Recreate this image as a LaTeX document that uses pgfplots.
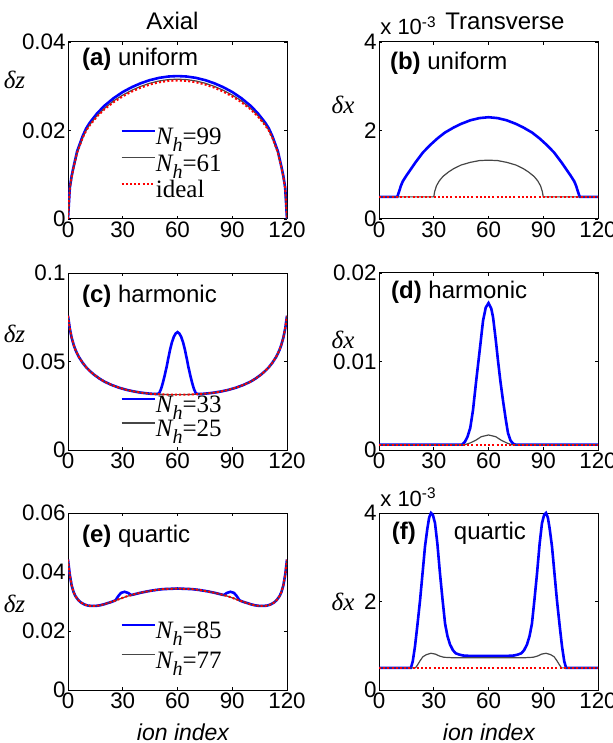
\documentclass[border=0pt]{standalone}
\usepackage{fontspec}
\setmainfont{Liberation Sans}
\newfontfamily\tms{Liberation Serif}
\usepackage{pgfplots}
\pgfplotsset{compat=1.18}

\definecolor{mblue}{RGB}{0,0,255}
\definecolor{mgray}{RGB}{70,70,70}
\definecolor{mred}{RGB}{255,0,0}

\newcommand{\Nh}[1]{{\itshape N\raisebox{-0.28em}{\fontsize{10}{10}\selectfont h}}=#1}

\pgfplotsset{
  panel/.style={
    scale only axis, width=109.5pt, height=88.5pt,
    anchor=south west,
    xmin=0, xmax=120, xtick={0,30,60,90,120},
    axis line style={line width=0.5pt},
    tick style={black, line width=0.4pt},
    major tick length=1.5pt,
    tick label style={font=\fontsize{11.2}{12}\selectfont},
    /pgf/number format/assume math mode=true,
    xticklabel style={inner sep=1pt},
    yticklabel style={inner sep=1pt},
    scaled y ticks=false,
    yticklabel style={/pgf/number format/fixed},
    legend style={draw=none, fill=none, inner sep=0pt,
      font=\tms\fontsize{12.5}{14}\selectfont,
      nodes={inner sep=0pt, text height=8.5pt, text depth=3pt},
      /tikz/every even column/.append style={column sep=1.5pt}},
    legend cell align=left,
    legend image code/.code={\draw[##1] (0pt,4pt) -- (16.5pt,4pt);},
  },
  sblue/.style={mblue, line width=1.3pt},
  sgray/.style={mgray, line width=0.6pt},
  sred/.style={mred, line width=1pt, dash pattern=on 1pt off 1.1pt},
}

\begin{document}
\begin{tikzpicture}
\path[use as bounding box] (0,0) rectangle (306pt,-371.5pt);

% (a) axial, uniform
\begin{axis}[panel, at={(34pt,-109.5pt)}, ymin=0, ymax=0.04, ytick={0,0.02,0.04},
  legend style={at={(0.237,0.52)}, anchor=north west, row sep=1.85pt}]
\addplot[sblue] coordinates {
 (0,0) (1,0.0071) (2,0.0097) (3,0.0117) (5,0.0153) (8,0.0187) (10,0.0205) (12,0.0218)
 (16,0.0239) (20,0.0256) (25,0.0273) (30,0.0287) (35,0.0298) (40,0.0307) (45,0.0314)
 (50,0.0319) (55,0.0322) (60,0.0323) (65,0.0322) (70,0.0319) (75,0.0314) (80,0.0307)
 (85,0.0298) (90,0.0287) (95,0.0273) (100,0.0256) (104,0.0239) (108,0.0218) (110,0.0205)
 (112,0.0187) (115,0.0153) (117,0.0117) (118,0.0097) (119,0.0071) (120,0)};
\addlegendentry{\Nh{99}}
\addplot[sgray] coordinates {
 (0,0) (1,0.0070) (2,0.0095) (3,0.0115) (5,0.0151) (8,0.0184) (10,0.0201) (12,0.0214)
 (16,0.0234) (20,0.0250) (25,0.0267) (30,0.0280) (35,0.0291) (40,0.0300) (45,0.0307)
 (50,0.0312) (55,0.0315) (60,0.0316) (65,0.0315) (70,0.0312) (75,0.0307) (80,0.0300)
 (85,0.0291) (90,0.0280) (95,0.0267) (100,0.0250) (104,0.0234) (108,0.0214) (110,0.0201)
 (112,0.0184) (115,0.0151) (117,0.0115) (118,0.0095) (119,0.0070) (120,0)};
\addlegendentry{\Nh{61}}
\addplot[sred] coordinates {
 (0,0) (1,0.0070) (2,0.0095) (3,0.0115) (5,0.0150) (8,0.0183) (10,0.0200) (12,0.0212)
 (16,0.0232) (20,0.0248) (25,0.0264) (30,0.0277) (35,0.0288) (40,0.0297) (45,0.0304)
 (50,0.0309) (55,0.0312) (60,0.0313) (65,0.0312) (70,0.0309) (75,0.0304) (80,0.0297)
 (85,0.0288) (90,0.0277) (95,0.0264) (100,0.0248) (104,0.0232) (108,0.0212) (110,0.0200)
 (112,0.0183) (115,0.0150) (117,0.0115) (118,0.0095) (119,0.0070) (120,0)};
\addlegendentry{ideal}
\node[anchor=west, font=\fontsize{12}{14}\selectfont] at (rel axis cs:0.032,0.904) {\textbf{(a)} uniform};
\end{axis}

% (b) transverse, uniform
\begin{axis}[panel, at={(189.5pt,-109.5pt)}, ymin=0, ymax=4, ytick={0,2,4}]
\addplot[sblue] coordinates {
 (0,0.5) (10,0.5) (11,0.62) (12,0.75) (13,0.85) (15,0.98) (17,1.1) (20,1.28) (24,1.5)
 (28,1.67) (32,1.82) (36,1.95) (41,2.07) (45,2.15) (50,2.23) (55,2.28) (60,2.3)
 (65,2.28) (70,2.23) (75,2.15) (79,2.07) (84,1.95) (88,1.82) (92,1.67) (96,1.5)
 (100,1.28) (103,1.1) (105,0.98) (107,0.85) (108,0.75) (109,0.62) (110,0.5) (120,0.5)};
\addplot[sgray] coordinates {
 (0,0.5) (30,0.5) (30.5,0.62) (31.5,0.75) (33,0.86) (35,0.96) (38,1.06) (41,1.14)
 (45,1.22) (50,1.28) (55,1.32) (60,1.33) (65,1.32) (70,1.28) (75,1.22) (79,1.14)
 (82,1.06) (85,0.96) (87,0.86) (88.5,0.75) (89.5,0.62) (90,0.5) (120,0.5)};
\addplot[sred] coordinates {(0,0.5) (120,0.5)};
\node[anchor=west, font=\fontsize{12}{14}\selectfont] at (rel axis cs:0.018,0.88) {\textbf{(b)} uniform};
\end{axis}

% (c) axial, harmonic
\begin{axis}[panel, at={(34pt,-225pt)}, ymin=0, ymax=0.1, ytick={0,0.05,0.1},
  legend style={at={(0.237,0.31)}, anchor=north west, row sep=0.5pt}]
\addplot[sblue] coordinates {
 (0,0.0758) (1,0.0685) (2,0.0635) (3,0.0598) (4,0.0568) (5,0.0545) (6,0.0525) (8,0.0493)
 (10,0.0467) (12,0.0446) (14,0.0428) (17,0.0405) (20,0.0386) (24,0.0367) (28,0.0352)
 (32,0.0340) (36,0.0331) (40,0.0324) (45,0.0318) (49,0.0316) (50,0.0322) (51,0.0345)
 (52,0.0380) (53,0.0422) (54,0.0468) (55,0.0520) (56,0.0570) (57,0.0610) (58,0.0640)
 (59,0.0658) (60,0.0666) (61,0.0658) (62,0.0640) (63,0.0610) (64,0.0570) (65,0.0520)
 (66,0.0468) (67,0.0422) (68,0.0380) (69,0.0345) (70,0.0322) (71,0.0316) (75,0.0318)
 (80,0.0324) (84,0.0331) (88,0.0340) (92,0.0352) (96,0.0367) (100,0.0386) (103,0.0405)
 (106,0.0428) (108,0.0446) (110,0.0467) (112,0.0493) (114,0.0525) (115,0.0545)
 (116,0.0568) (117,0.0598) (118,0.0635) (119,0.0685) (120,0.0758)};
\addlegendentry{\Nh{33}}
\addplot[sgray] coordinates {
 (0,0.0758) (1,0.0685) (2,0.0635) (3,0.0598) (4,0.0568) (5,0.0545) (6,0.0525) (8,0.0493)
 (10,0.0467) (12,0.0446) (14,0.0428) (17,0.0405) (20,0.0386) (24,0.0367) (28,0.0352)
 (32,0.0340) (36,0.0331) (40,0.0324) (45,0.0318) (50,0.0315) (55,0.0313) (60,0.0313)
 (65,0.0313) (70,0.0315) (75,0.0318) (80,0.0324) (84,0.0331) (88,0.0340) (92,0.0352)
 (96,0.0367) (100,0.0386) (103,0.0405) (106,0.0428) (108,0.0446) (110,0.0467)
 (112,0.0493) (114,0.0525) (115,0.0545) (116,0.0568) (117,0.0598) (118,0.0635)
 (119,0.0685) (120,0.0758)};
\addlegendentry{\Nh{25}}
\addplot[sred, forget plot] coordinates {
 (0,0.0758) (1,0.0685) (2,0.0635) (3,0.0598) (4,0.0568) (5,0.0545) (6,0.0525) (8,0.0493)
 (10,0.0467) (12,0.0446) (14,0.0428) (17,0.0405) (20,0.0386) (24,0.0367) (28,0.0352)
 (32,0.0340) (36,0.0331) (40,0.0324) (45,0.0318) (50,0.0315) (55,0.0313) (60,0.0313)
 (65,0.0313) (70,0.0315) (75,0.0318) (80,0.0324) (84,0.0331) (88,0.0340) (92,0.0352)
 (96,0.0367) (100,0.0386) (103,0.0405) (106,0.0428) (108,0.0446) (110,0.0467)
 (112,0.0493) (114,0.0525) (115,0.0545) (116,0.0568) (117,0.0598) (118,0.0635)
 (119,0.0685) (120,0.0758)};
\node[anchor=west, font=\fontsize{12}{14}\selectfont] at (rel axis cs:0.032,0.87) {\textbf{(c)} harmonic};
\end{axis}

% (d) transverse, harmonic
\begin{axis}[panel, at={(189.5pt,-225pt)}, ymin=0, ymax=0.02, ytick={0,0.01,0.02}]
\addplot[sblue] coordinates {
 (0,0.0006) (45.5,0.0006) (47,0.0009) (48.5,0.0015) (50,0.0025) (51.5,0.0045)
 (53.3,0.0079) (55.2,0.0113) (57,0.0146) (58.5,0.0161) (60,0.0166) (61.5,0.0160)
 (62.5,0.0150) (64,0.0124) (65.2,0.0101) (66.5,0.0078) (68,0.0055) (69.5,0.0034)
 (70.7,0.0019) (72,0.0011) (73.5,0.0007) (75,0.0006) (120,0.0006)};
\addplot[sgray] coordinates {
 (0,0.0006) (47,0.0006) (50,0.0008) (53,0.0011) (56,0.0015) (60,0.0017) (64,0.0015)
 (67,0.0011) (70,0.0008) (72.5,0.0006) (120,0.0006)};
\addplot[sred] coordinates {(0,0.0006) (120,0.0006)};
\node[anchor=west, font=\fontsize{12}{14}\selectfont] at (rel axis cs:0.023,0.89) {\textbf{(d)} harmonic};
\end{axis}

% (e) axial, quartic
\begin{axis}[panel, at={(34pt,-345pt)}, ymin=0, ymax=0.06, ytick={0,0.02,0.04,0.06},
  legend style={at={(0.237,0.39)}, anchor=north west, row sep=3.5pt}]
\addplot[sblue] coordinates {
 (0,0.0442) (1,0.0390) (2,0.0355) (3,0.0333) (4,0.0319) (5.5,0.0306) (7,0.0297)
 (9,0.0290) (11,0.0286) (13,0.0285) (15,0.0285) (17.5,0.0287) (20,0.0291) (24,0.0299)
 (26,0.0304) (27.5,0.0318) (29,0.0329) (31,0.0333) (33,0.0329) (34.5,0.0322) (36,0.0324)
 (40,0.0330) (44,0.0335) (48,0.0339) (52,0.0342) (56,0.0343) (60,0.0344) (64,0.0343)
 (68,0.0342) (72,0.0339) (76,0.0335) (80,0.0330) (84,0.0324) (85.5,0.0322) (87,0.0329)
 (89,0.0333) (91,0.0329) (92.5,0.0318) (94,0.0304) (96,0.0299) (100,0.0291)
 (102.5,0.0287) (105,0.0285) (107,0.0285) (109,0.0286) (111,0.0290) (113,0.0297)
 (114.5,0.0306) (116,0.0319) (117,0.0333) (118,0.0355) (119,0.0390) (120,0.0442)};
\addlegendentry{\Nh{85}}
\addplot[sgray] coordinates {
 (0,0.0442) (1,0.0390) (2,0.0355) (3,0.0333) (4,0.0319) (5.5,0.0306) (7,0.0297)
 (9,0.0290) (11,0.0286) (13,0.0285) (15,0.0285) (17.5,0.0287) (20,0.0291) (24,0.0299)
 (28,0.0308) (32,0.0317) (36,0.0324) (40,0.0330) (44,0.0335) (48,0.0339) (52,0.0342)
 (56,0.0343) (60,0.0344) (64,0.0343) (68,0.0342) (72,0.0339) (76,0.0335) (80,0.0330)
 (84,0.0324) (88,0.0317) (92,0.0308) (96,0.0299) (100,0.0291) (102.5,0.0287)
 (105,0.0285) (107,0.0285) (109,0.0286) (111,0.0290) (113,0.0297) (114.5,0.0306)
 (116,0.0319) (117,0.0333) (118,0.0355) (119,0.0390) (120,0.0442)};
\addlegendentry{\Nh{77}}
\addplot[sred, forget plot] coordinates {
 (0,0.0442) (1,0.0390) (2,0.0355) (3,0.0333) (4,0.0319) (5.5,0.0306) (7,0.0297)
 (9,0.0290) (11,0.0286) (13,0.0285) (15,0.0285) (17.5,0.0287) (20,0.0291) (24,0.0299)
 (28,0.0308) (32,0.0317) (36,0.0324) (40,0.0330) (44,0.0335) (48,0.0339) (52,0.0342)
 (56,0.0343) (60,0.0344) (64,0.0343) (68,0.0342) (72,0.0339) (76,0.0335) (80,0.0330)
 (84,0.0324) (88,0.0317) (92,0.0308) (96,0.0299) (100,0.0291) (102.5,0.0287)
 (105,0.0285) (107,0.0285) (109,0.0286) (111,0.0290) (113,0.0297) (114.5,0.0306)
 (116,0.0319) (117,0.0333) (118,0.0355) (119,0.0390) (120,0.0442)};
\node[anchor=west, font=\fontsize{12}{14}\selectfont] at (rel axis cs:0.032,0.87) {\textbf{(e)} quartic};
\end{axis}

% (f) transverse, quartic
\begin{axis}[panel, at={(189.5pt,-345pt)}, ymin=0, ymax=4, ytick={0,2,4}, clip=false]
\addplot[sblue] coordinates {
 (0,0.5) (17.5,0.5) (18.5,0.65) (19.7,0.98) (21,1.45) (22.5,2.03) (24,2.7) (25.2,3.24)
 (26.5,3.65) (27.5,3.9) (28.5,4.0) (29.5,3.96) (30.7,3.77) (32,3.3) (33.4,2.64)
 (34.8,2.05) (36.2,1.5) (37.5,1.22) (38.9,1.03) (40.5,0.9) (42,0.83) (44,0.8) (46,0.78)
 (50,0.77) (60,0.77) (70,0.77) (74,0.78) (76,0.8) (78,0.83) (79.5,0.9) (81.1,1.03)
 (82.5,1.22) (83.8,1.5) (85.2,2.05) (86.6,2.64) (88,3.3) (89.3,3.77) (90.5,3.96)
 (91.5,4.0) (92.5,3.9) (93.5,3.65) (94.8,3.24) (96,2.7) (97.5,2.03) (99,1.45)
 (100.3,0.98) (101.5,0.65) (102.5,0.5) (120,0.5)};
\addplot[sgray] coordinates {
 (0,0.5) (20,0.5) (21,0.56) (22.5,0.66) (24,0.75) (26,0.8) (28.5,0.83) (31,0.81)
 (33,0.77) (35.5,0.74) (40,0.73) (60,0.73) (80,0.73) (84.5,0.74) (87,0.77) (89,0.81)
 (91.5,0.83) (94,0.8) (96,0.75) (97.5,0.66) (99,0.56) (100,0.5) (120,0.5)};
\addplot[sred] coordinates {(0,0.5) (120,0.5)};
\node[anchor=west, font=\fontsize{12}{14}\selectfont] at (rel axis cs:0.027,0.887) {\textbf{(f)}};
\node[anchor=west, font=\fontsize{12}{14}\selectfont] at (rel axis cs:0.31,0.887) {quartic};
\end{axis}

% titles, scale labels and axis labels (positions in reference pixels)
\begin{scope}[x=0.5pt, y=-0.5pt]
\node[font=\fontsize{12}{13}\selectfont] at (172.5,21) {Axial};
\node[font=\fontsize{12}{13}\selectfont] at (505,21) {Transverse};
\node[anchor=base west, inner sep=0pt, font=\fontsize{11}{12}\selectfont] at (380,35) {x 10\textsuperscript{-3}};
\node[anchor=base west, inner sep=0pt, font=\fontsize{11}{12}\selectfont] at (380,506) {x 10\textsuperscript{-3}};
\node[font=\tms\itshape\fontsize{12.5}{14}\selectfont] at (14.5,80) {δz};
\node[font=\tms\itshape\fontsize{12.5}{14}\selectfont] at (14.5,334) {δz};
\node[font=\tms\itshape\fontsize{12.5}{14}\selectfont] at (14.5,604) {δz};
\node[font=\tms\itshape\fontsize{12.5}{14}\selectfont] at (343,105) {δx};
\node[font=\tms\itshape\fontsize{12.5}{14}\selectfont] at (343,340) {δx};
\node[font=\tms\itshape\fontsize{12.5}{14}\selectfont] at (343,602) {δx};
\node[anchor=base, inner sep=0pt, font=\itshape\fontsize{11.5}{13}\selectfont] at (183,740) {ion index};
\node[anchor=base, inner sep=0pt, font=\itshape\fontsize{11.5}{13}\selectfont] at (489,740) {ion index};
\end{scope}
\end{tikzpicture}
\end{document}
